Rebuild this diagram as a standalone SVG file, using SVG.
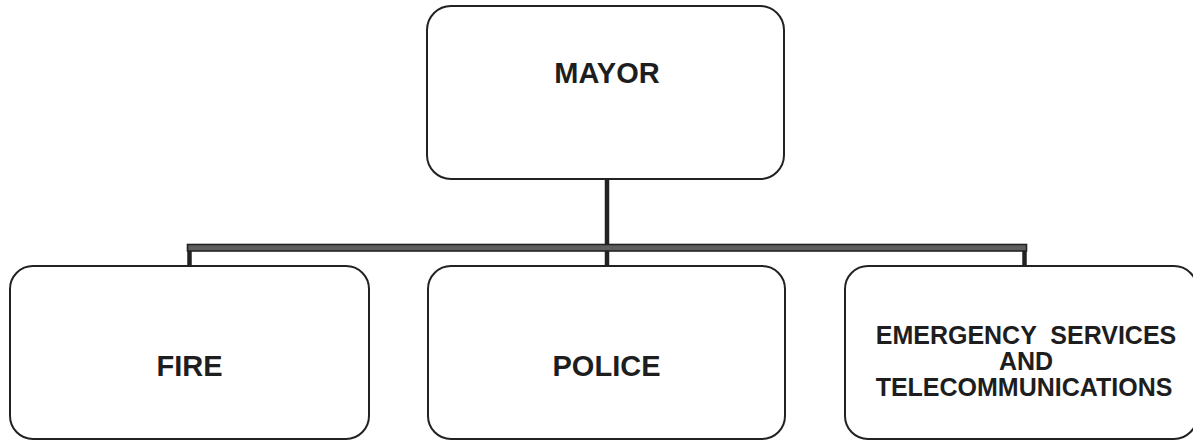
<svg xmlns="http://www.w3.org/2000/svg" width="1193" height="440" viewBox="0 0 1193 440">
<style>
.box{fill:#fff;stroke:#222;stroke-width:2}
.t{font-family:"Liberation Sans",Arial,sans-serif;font-weight:bold;fill:#1e1e1e;text-anchor:middle}
.big{font-size:29px}
.small{font-size:25px}
.ln{fill:none;stroke:#222;stroke-width:4.5}
.bar{fill:#5e5e5e;stroke:#222;stroke-width:1.6}
</style>
<rect width="1193" height="440" fill="#fff"/>
<g id="connectors">
<line class="ln" x1="607" y1="179" x2="607" y2="266"/>
<line class="ln" x1="189.5" y1="245" x2="189.5" y2="266"/>
<line class="ln" x1="1024.5" y1="245" x2="1024.5" y2="266"/>
<rect class="bar" x="187.5" y="244.5" width="839" height="6.5"/>
</g>
<g id="mayor">
<rect class="box" x="427" y="6" width="357" height="173" rx="24"/>
<text class="t big" x="607" y="83">MAYOR</text>
</g>
<g id="fire">
<rect class="box" x="10" y="266" width="359" height="173" rx="23"/>
<text class="t big" x="189.5" y="376">FIRE</text>
</g>
<g id="police">
<rect class="box" x="428" y="266" width="357" height="173" rx="23"/>
<text class="t big" x="606.5" y="376">POLICE</text>
</g>
<g id="emergency">
<rect class="box" x="845" y="266" width="352" height="173" rx="23"/>
<text class="t small" x="1026" y="344" xml:space="preserve">EMERGENCY  SERVICES</text>
<text class="t small" x="1026" y="370">AND</text>
<text class="t small" x="1024" y="396">TELECOMMUNICATIONS</text>
</g>
</svg>
